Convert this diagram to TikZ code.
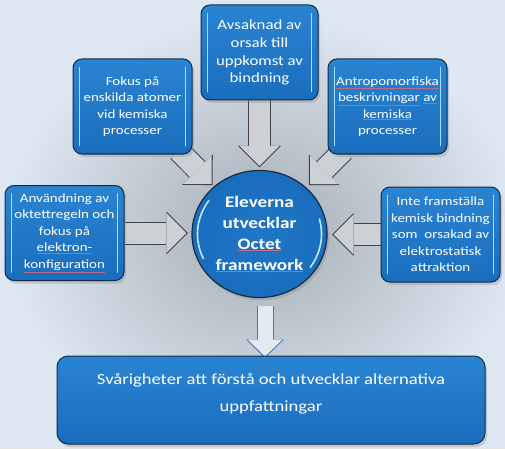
\documentclass[tikz,border=0pt]{standalone}
\usepackage{fontspec}
\setmainfont{Carlito}[FakeStretch=1.2]
\usepackage{tikz}
\usetikzlibrary{arrows.meta,shapes.geometric,shadows,calc}
\definecolor{bgcol}{HTML}{DDE7F1}
\definecolor{shadecol}{HTML}{A5ACB4}
\definecolor{boxcol}{HTML}{1A6DBD}
\definecolor{boxtop}{HTML}{2A84D2}
\definecolor{ringcol}{HTML}{1E74C4}
\definecolor{boxline}{HTML}{132C44}
\definecolor{litecol}{HTML}{A4E0FA}
\definecolor{arrfill}{HTML}{CDD0D4}
\definecolor{arrline}{HTML}{3E444A}
\definecolor{downline}{HTML}{3D7BC0}
\definecolor{downfill}{HTML}{E4EAF2}
\definecolor{spellred}{HTML}{B2708E}
\newcommand{\spell}[1]{{\color{spellred}$\underline{\hbox{\color{white}#1}}$}}
\pgfdeclarelayer{back}
\pgfdeclarelayer{arrows}
\pgfsetlayers{back,arrows,main}

\begin{document}
\begin{tikzpicture}[x=1pt, y=-1pt,
        box/.style={rectangle, rounded corners=9pt, draw=boxline, line width=1pt,
            top color=boxtop, bottom color=boxcol, text=white, align=center,
            minimum width=\bw, minimum height=\bh, inner sep=1pt,
            font=\fontsize{12.5}{16.5}\selectfont,
            drop shadow={opacity=0.3, shadow xshift=2pt, shadow yshift=-3pt}},
        ring/.style={ellipse, draw=boxline, line width=1.2pt, inner sep=0pt,
            inner color=ringcol!85!boxtop, outer color=boxcol, text=white, align=center,
            minimum width=135pt, minimum height=127pt,
            font=\fontsize{16}{21}\selectfont\bfseries,
            drop shadow={opacity=0.3, shadow xshift=2pt, shadow yshift=-3pt}},
        resultbox/.style={box, rounded corners=11pt, minimum width=428pt, minimum height=88pt,
            font=\fontsize{15.5}{27}\selectfont},
        barlite/.style={litecol, line width=1.6pt, line cap=round},
        grayarrow/.style={arrfill, line width=21pt,
            -{Triangle[width=40pt, length=20pt, line width=0pt]},
            preaction={draw=arrline, line width=23pt, shorten >=-1.5pt,
                -{Triangle[width=43pt, length=21.5pt, line width=0pt]}}},
        downarrow/.style={downfill, line width=15pt,
            -{Triangle[width=35pt, length=17pt, line width=0pt]},
            preaction={draw=downline, line width=17pt, shorten >=-1.5pt,
                -{Triangle[width=38pt, length=18.5pt, line width=0pt]}}}]
        \def\bw{119pt} % box width
        \def\bh{95pt}  % box height

        \useasboundingbox (0,0) rectangle (505,449);

        % BACKGROUND
        \begin{pgfonlayer}{back}
        \fill[bgcol] (0,0) rectangle (505,449);
        \shade[inner color=shadecol, outer color=bgcol] (262,232) ellipse [x radius=255pt, y radius=215pt];
        \end{pgfonlayer}

        % CAUSES
        \node[box, minimum width=117pt, font=\fontsize{14}{17.7}\selectfont] (avsak) at (259.5,52.5)
            {Avsaknad av\\orsak till\\uppkomst av\\bindning};
        \node[box] (fokus) at (132.5,106.5) {Fokus på\\enskilda atomer\\vid kemiska\\processer};
        \node[box] (antro) at (387.5,106.5)
            {\spell{Antropomorfiska}\\\spell{beskrivningar} \spell{av}\\\spell{kemiska}\\processer};
        \node[box] (anvand) at (64.5,233)
            {Användning av\\oktettregeln och\\fokus på\\\spell{elektron-}\\\spell{konfiguration}};
        \node[box] (inte) at (440.5,234.5)
            {Inte framställa\\kemisk bindning\\som~ orsakad av\\elektrostatisk\\attraktion};

        % CENTRE AND RESULT
        \node[ring] (ring) at (259.5,234) {Eleverna\\utvecklar\\\spell{Octet}\\\spell{framework}};
        \node[resultbox] (result) at (271,400)
            {Svårigheter att förstå och utvecklar alternativa\\uppfattningar\\[-13pt]\mbox{}};

        % highlights inside the boxes and the ring
        \foreach \b in {avsak,fokus,antro,anvand,inte}{
        \draw[barlite] ([xshift=7pt,yshift=-9pt]\b.north west) -- ([xshift=7pt,yshift=9pt]\b.south west);
        \draw[barlite] ([xshift=-7pt,yshift=-9pt]\b.north east) -- ([xshift=-7pt,yshift=9pt]\b.south east);
        }
        \draw[barlite, litecol!70] (ring.center) ++(145:62pt and 58pt) arc[start angle=145, end angle=205, x radius=62pt, y radius=58pt];
        \draw[barlite, litecol!70] (ring.center) ++(-35:62pt and 58pt) arc[start angle=-35, end angle=15, x radius=62pt, y radius=58pt];

        % ARROWS
        \begin{pgfonlayer}{arrows}
        \draw[grayarrow] (avsak.south) -- ($(ring.north)+(0,-4)$);
        \draw[grayarrow] ($(fokus.south east)+(-14,-4)$) -- ($(ring.center)+(-48,-50)$);
        \draw[grayarrow] ($(antro.south west)+(16,-4)$) -- ($(ring.center)+(50.5,-50)$);
        \draw[grayarrow] (anvand.east) -- ($(anvand.east -| ring.west)+(-5,0)$);
        \draw[grayarrow] (inte.west) -- ($(inte.west -| ring.east)+(6,0)$);
        \draw[downarrow] ($(ring.south)+(5.5,8)$) -- ($(result.north -| ring.south)+(5.5,1)$);
        \end{pgfonlayer}
\end{tikzpicture}
\end{document}
